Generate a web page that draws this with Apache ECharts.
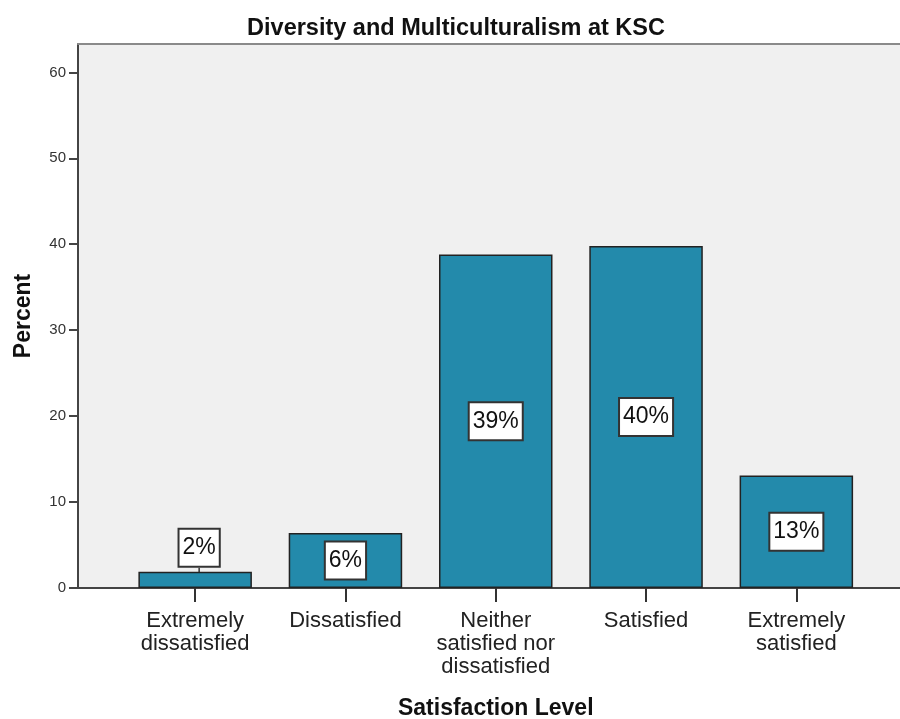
<!DOCTYPE html>
<html>
<head>
<meta charset="utf-8">
<script src="https://cdn.jsdelivr.net/npm/echarts@6/dist/echarts.min.js"></script>
<style>
html,body{margin:0;padding:0;background:#fff;}
#chart{width:900px;height:719px;}
</style>
</head>
<body>
<div id="chart"></div>
<script>
const titleText = 'Diversity and Multiculturalism at KSC';
const categories = ['Extremely\ndissatisfied', 'Dissatisfied', 'Neither\nsatisfied nor\ndissatisfied', 'Satisfied', 'Extremely\nsatisfied'];
const percentValues = [1.9, 6.4, 38.8, 39.8, 13.1];
const yTicks = [0, 10, 20, 30, 40, 50, 60];
const yName = 'Percent';
const xName = 'Satisfaction Level';

const FONT = "'Liberation Sans', Arial, sans-serif";
const YMAX = 63.3;

const chart = echarts.init(document.getElementById('chart'), null, {renderer: 'canvas'});

const seriesData = percentValues.map((v, i) => {
  const d = {value: v};
  if (i === 0) {
    d.label = {position: 'top', distance: 0, offset: [0, 0]};
    d.labelLine = {show: true};
  }
  return d;
});

const option = {
  backgroundColor: '#ffffff',
  animation: false,
  title: {
    text: titleText,
    left: 451,
    top: 12,
    textAlign: 'center',
    textStyle: {fontFamily: FONT, fontSize: 23.5, fontWeight: 'bold', color: '#111'}
  },
  grid: [
    {left: 78, right: 0, top: 44, bottom: 131, show: true, backgroundColor: '#f0f0f0', borderWidth: 0, containLabel: false, outerBoundsMode: 'none'},
    {left: 120, right: 28.5, top: 44, bottom: 131, show: false, containLabel: false, outerBoundsMode: 'none'}
  ],
  xAxis: [
    {type: 'value', gridIndex: 0, min: 0, max: 1, position: 'bottom',
     axisLine: {show: true, lineStyle: {color: '#444', width: 2}},
     axisTick: {show: false}, axisLabel: {show: false}, splitLine: {show: false}},
    {type: 'value', gridIndex: 0, min: 0, max: 1, position: 'top',
     axisLine: {show: true, lineStyle: {color: '#8a8a8a', width: 2}},
     axisTick: {show: false}, axisLabel: {show: false}, splitLine: {show: false}},
    {type: 'category', gridIndex: 1, data: categories,
     axisLine: {show: false},
     axisTick: {show: true, alignWithLabel: true, length: 14, lineStyle: {color: '#333', width: 2}},
     axisLabel: {fontFamily: FONT, fontSize: 22, color: '#222', lineHeight: 23, margin: 21, interval: 0},
     name: xName, nameLocation: 'middle', nameGap: 109,
     nameTextStyle: {fontFamily: FONT, fontSize: 23, fontWeight: 'bold', color: '#111'}}
  ],
  yAxis: [
    {type: 'value', gridIndex: 0, min: 0, max: YMAX, interval: 10,
     axisLine: {show: true, lineStyle: {color: '#444', width: 2}},
     axisTick: {show: true, length: 9, customValues: yTicks, lineStyle: {color: '#444', width: 2}},
     axisLabel: {fontFamily: FONT, fontSize: 15, color: '#333', margin: 12, customValues: yTicks},
     splitLine: {show: false},
     name: yName, nameLocation: 'middle', nameGap: 43,
     nameTextStyle: {fontFamily: FONT, fontSize: 23, fontWeight: 'bold', color: '#111'}},
    {type: 'value', gridIndex: 1, min: 0, max: YMAX, show: false, splitLine: {show: false}}
  ],
  series: [{
    type: 'bar',
    xAxisIndex: 2,
    yAxisIndex: 1,
    data: seriesData,
    barWidth: 113.5,
    itemStyle: {color: '#238aab', borderColor: '#222', borderWidth: 1.5},
    label: {
      show: true,
      position: 'inside',
      offset: [0, 3],
      formatter: p => Math.round(p.value) + '%',
      fontFamily: FONT, fontSize: 23, color: '#111',
      backgroundColor: '#ffffff', borderColor: '#333', borderWidth: 2,
      padding: [6, 3, 6, 3], lineHeight: 24
    },
    labelLine: {show: false, length2: 0, lineStyle: {color: '#333', width: 1.5}},
    labelLayout: function (params) {
      if (params.dataIndex === 0) {
        return {dx: 4, dy: -6};
      }
      return {};
    }
  }]
};

chart.setOption(option);
</script>
</body>
</html>
